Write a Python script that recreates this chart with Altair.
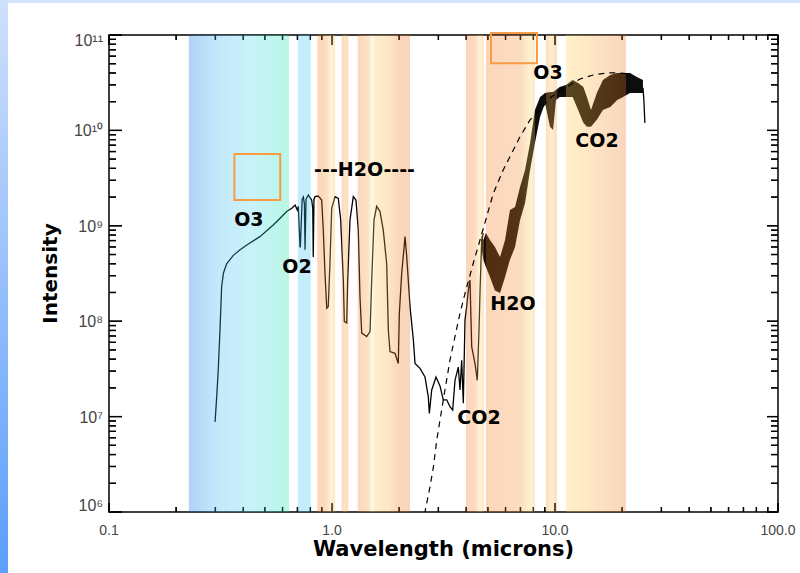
import altair as alt
import pandas as pd

# ---------------- data ----------------
# measured spectrum (wavelength in microns, intensity)
spec_wl = [0.299, 0.304, 0.309, 0.315, 0.320, 0.326, 0.337, 0.361, 0.387, 0.415, 0.475, 0.545, 0.585,
           0.626, 0.660, 0.683, 0.699, 0.706, 0.719, 0.721, 0.735, 0.744, 0.752, 0.757, 0.765, 0.783,
           0.811, 0.820, 0.824, 0.830, 0.839, 0.868, 0.899, 0.914, 0.930, 0.947, 0.962, 0.979, 0.997,
           1.032, 1.067, 1.094, 1.124, 1.136, 1.164, 1.176, 1.204, 1.246, 1.281, 1.312, 1.335, 1.359,
           1.431, 1.481, 1.507, 1.543, 1.586, 1.642, 1.698, 1.759, 1.789, 1.820, 1.916, 1.983, 2.004,
           2.054, 2.126, 2.163, 2.238, 2.316, 2.357, 2.481, 2.612, 2.704, 2.732, 2.800, 2.927, 3.050,
           3.156, 3.268, 3.381, 3.477, 3.561, 3.685, 3.750, 3.816, 3.880, 3.948, 4.018, 4.085, 4.157,
           4.231, 4.378, 4.483, 4.562, 4.610, 4.691, 4.770]
spec_int = [8.8e6, 1.6e7, 3.1e7, 8.8e7, 2.3e8, 3.2e8, 4.0e8, 4.9e8, 5.6e8, 6.3e8, 7.7e8, 1.02e9, 1.2e9,
            1.41e9, 1.53e9, 1.65e9, 1.46e9, 1.6e9, 6.0e8, 6.0e8, 1.9e9, 2.0e9, 1.7e9, 5.6e8, 1.9e9, 2.1e9,
            1.86e9, 1.5e9, 4.7e8, 1.9e9, 2.02e9, 2.05e9, 1.86e9, 9.0e8, 3.2e8, 1.37e8, 1.42e8, 4.0e8, 1.53e9,
            2.02e9, 1.94e9, 1.15e9, 2.7e8, 9.9e7, 9.6e7, 2.7e8, 1.15e9, 2.02e9, 1.86e9, 9.0e8, 1.8e8, 7.5e7,
            6.9e7, 7.8e7, 2.7e8, 1.15e9, 1.6e9, 1.41e9, 9.0e8, 4.0e8, 8.1e7, 4.8e7, 4.6e7, 3.6e7, 1.2e8,
            3.2e8, 7.7e8, 4.75e8, 1.42e8, 6.4e7, 3.6e7, 3.2e7, 2.6e7, 1.6e7, 1.08e7, 1.9e7, 2.6e7, 2.1e7,
            1.5e7, 1.5e7, 1.27e7, 1.17e7, 2.4e7, 3.3e7, 1.9e7, 3.9e7, 1.38e7, 1.03e8, 1.42e8, 2.1e8, 2.7e8,
            5.4e7, 3.6e7, 2.4e7, 8.1e7, 2.0e8, 7.1e8, 8.4e8]

# noisy thermal-infrared part: lower / upper envelope
noise_wl = [4.69, 4.77, 4.90, 5.11, 5.38, 5.67, 5.97, 6.28, 6.62, 6.97, 7.34, 7.73, 8.13, 8.57, 9.02,
            9.50, 9.80, 10.1, 10.5, 11.2, 12.0, 12.7, 13.4, 13.9, 14.5, 15.4, 16.4, 17.7, 19.0, 20.2,
            21.7, 23.3, 24.8]
noise_lo = [5.6e8, 4.4e8, 3.7e8, 2.9e8, 2.1e8, 1.98e8, 2.9e8, 4.4e8, 6.0e8, 1.15e9, 1.73e9, 3.84e9,
            7.4e9, 1.38e10, 1.94e10, 1.09e10, 1.01e10, 2.08e10, 2.24e10, 2.24e10, 2.24e10, 1.64e10,
            1.2e10, 1.09e10, 1.09e10, 1.29e10, 1.64e10, 1.76e10, 2.08e10, 2.24e10, 2.47e10, 2.47e10, 2.47e10]
noise_hi = [8.0e8, 7.1e8, 8.4e8, 7.1e8, 6.0e8, 4.7e8, 7.1e8, 1.46e9, 1.57e9, 2.55e9, 3.84e9, 7.4e9,
            1.64e10, 2.24e10, 2.47e10, 2.53e10, 2.53e10, 2.65e10, 2.85e10, 2.99e10, 3.38e10, 3.14e10,
            2.85e10, 2.24e10, 1.64e10, 2.47e10, 3.38e10, 3.81e10, 4.0e10, 4.0e10, 4.0e10, 3.63e10, 3.38e10]

# end of the spectrum
tail_wl = [24.8, 25.0, 25.3]
tail_int = [2.8e10, 2.2e10, 1.2e10]

# blackbody (dashed)
bb_wl = [2.60, 2.75, 2.85, 2.95, 3.05, 3.21, 3.38, 3.56, 3.75, 3.95, 4.30, 4.61, 4.94, 5.29, 5.86,
         6.28, 6.97, 7.73, 8.57, 9.50, 10.9, 12.95, 14.85, 17.05, 19.6, 22.0]
bb_int = [9.5e5, 1.83e6, 2.98e6, 5.7e6, 9.2e6, 1.9e7, 3.9e7, 6.9e7, 1.21e8, 1.96e8, 4.05e8, 7.1e8,
          1.25e9, 2.19e9, 3.85e9, 5.3e9, 8.6e9, 1.29e10, 1.64e10, 2.19e10, 2.72e10, 3.46e10, 3.81e10,
          4.0e10, 4.0e10, 3.9e10]

# shaded absorption bands (microns)
band_start = [0.228, 0.702, 0.859, 1.105, 1.304, 3.99, 4.90, 9.11, 11.2]
band_end = [0.642, 0.803, 1.032, 1.183, 2.238, 4.80, 8.13, 10.2, 20.8]

# orange boxes
box_x1 = [0.365, 5.16]
box_x2 = [0.586, 8.30]
box_y1 = [1.86e9, 5.05e10]
box_y2 = [5.66e9, 1.05e11]

# annotations
label_text = ["O3", "---H2O----", "O2", "H2O", "CO2", "O3", "CO2"]
label_wl = [0.424, 1.399, 0.697, 6.48, 4.56, 9.30, 15.43]
label_int = [1.15e9, 3.84e9, 3.70e8, 1.51e8, 9.67e6, 4.0e10, 7.74e9]

# axes
x_title = "Wavelength (microns)"
y_title = "Intensity"
x_major = [0.1, 1.0, 10.0, 100.0]
x_major_labels = ["0.1", "1.0", "10.0", "100.0"]
x_minor = [0.2, 0.3, 0.4, 0.5, 0.6, 0.7, 0.8, 0.9, 2, 3, 4, 5, 6, 7, 8, 9,
           20, 30, 40, 50, 60, 70, 80, 90]
y_major = [1e6, 1e7, 1e8, 1e9, 1e10, 1e11]
y_major_labels = ["10⁶", "10⁷", "10⁸", "10⁹", "10¹⁰", "10¹¹"]
y_minor = [m * 10 ** e for e in range(6, 11) for m in range(2, 10)]

# ---------------- styles ----------------
W, H = 669, 477
ALPHA = 0.3
band_styles = [
    [(0, "#b2d2f6"), (0.3, "#c4e9fa"), (0.6, "#c9f2fa"), (1, "#b9f6e4")],
    [(0, "#c3edf9"), (1, "#c3edf9")],
    [(0, "#fbd5ba"), (0.45, "#fcdcbf"), (0.8, "#fff2d6"), (1, "#fde3c4")],
    [(0, "#fbd7bb"), (0.5, "#fde6c8"), (1, "#fbd7bb")],
    [(0, "#fcd7bb"), (0.2, "#fde2c4"), (0.27, "#fff8e6"), (0.35, "#fdeccb"), (0.6, "#fde6c4"),
     (0.75, "#fbd8bc"), (1, "#fad4b8")],
    [(0, "#fbd5ba"), (0.5, "#fcdcc0"), (0.75, "#fff3d6"), (1, "#fde7c6")],
    [(0, "#fbd6bb"), (0.7, "#fcdcc0"), (0.9, "#fff0cf"), (1, "#fde9c8")],
    [(0, "#fcdcc0"), (0.5, "#fff0cf"), (1, "#fcdcc0")],
    [(0, "#fff1cb"), (0.3, "#fee9c5"), (1, "#f9d5bc")],
]


def src(hexc, a=ALPHA):
    vals = [int(hexc[i:i + 2], 16) for i in (1, 3, 5)]
    out = [max(0, min(255, round((c - 255 * (1 - a)) / a))) for c in vals]
    return "#%02x%02x%02x" % tuple(out)


xs = alt.Scale(type="log", domain=[0.1, 100], nice=False)
ys = alt.Scale(type="log", domain=[1e6, 1e11], nice=False)

# ---------------- layers ----------------
one = pd.DataFrame({"k": [0]})
top_strip = alt.Chart(one).mark_rect(color="#d3e2fb", clip=False).encode(
    x=alt.value(-109), x2=alt.value(W + 22), y=alt.value(-35), y2=alt.value(-32))
left_strip = alt.Chart(one).mark_rect(
    fill={"gradient": "linear", "x1": 0, "x2": 0, "y1": 0, "y2": 1,
          "stops": [{"offset": 0, "color": "#cfe0fc"}, {"offset": 1, "color": "#5b9efb"}]},
    clip=False).encode(x=alt.value(-109), x2=alt.value(-101), y=alt.value(-35), y2=alt.value(H + 61))

spec_df = pd.DataFrame({"wl": spec_wl + tail_wl, "inten": spec_int + tail_int,
                        "seg": ["a"] * len(spec_wl) + ["b"] * len(tail_wl)})
spectrum = alt.Chart(spec_df).mark_line(color="black", strokeWidth=1.3, clip=True).encode(
    x=alt.X("wl:Q", scale=xs, axis=None),
    y=alt.Y("inten:Q", scale=ys, axis=None),
    detail="seg:N")

noise_df = pd.DataFrame({"wl": noise_wl, "lo": noise_lo, "hi": noise_hi})
noise = alt.Chart(noise_df).mark_area(color="black", opacity=0.95, clip=True).encode(
    x=alt.X("wl:Q", scale=xs, axis=None),
    y=alt.Y("lo:Q", scale=ys, axis=None),
    y2="hi:Q")


# inward tick marks on all four edges (positions from the scales)
def xticks(vals, edge_y, length, name):
    df = pd.DataFrame({name: vals})
    top = min(edge_y, edge_y + length)
    return [
        alt.Chart(df).mark_rule(color="black", strokeWidth=1.3).encode(
            x=alt.X(f"{name}:Q", scale=xs, axis=None),
            y=alt.value(edge_y), y2=alt.value(edge_y + length)),
        alt.Chart(df).mark_tick(color="black", orient="vertical", size=abs(length),
                                thickness=1.3, opacity=1).encode(
            x=alt.X(f"{name}:Q", scale=xs, axis=None),
            y=alt.value(top + abs(length) / 2)),
    ]


def yticks(vals, edge_x, length, name):
    df = pd.DataFrame({name: vals})
    left = min(edge_x, edge_x + length)
    return [
        alt.Chart(df).mark_rule(color="black", strokeWidth=1.3).encode(
            y=alt.Y(f"{name}:Q", scale=ys, axis=None),
            x=alt.value(edge_x), x2=alt.value(edge_x + length)),
        alt.Chart(df).mark_tick(color="black", orient="horizontal", size=abs(length),
                                thickness=1.3, opacity=1).encode(
            y=alt.Y(f"{name}:Q", scale=ys, axis=None),
            x=alt.value(left + abs(length) / 2)),
    ]


tick_layers = (
    xticks(x_minor, H, -5, "xb_minor") + xticks(x_major, H, -9, "xb_major")
    + xticks(x_minor, 0, 5, "xt_minor") + xticks(x_major, 0, 10, "xt_major")
    + yticks(y_minor, 0, 7, "yl_minor") + yticks(y_major, 0, 13, "yl_major")
    + yticks(y_minor, W, -7, "yr_minor") + yticks(y_major, W, -11, "yr_major")
)

band_layers = []
for s, e, stops in zip(band_start, band_end, band_styles):
    df = pd.DataFrame({"s": [s], "e": [e]})
    grad = {"gradient": "linear", "x1": 0, "x2": 1, "y1": 0, "y2": 0,
            "stops": [{"offset": o, "color": src(c)} for o, c in stops]}
    band_layers.append(
        alt.Chart(df).mark_rect(fill=grad, opacity=ALPHA, strokeWidth=0).encode(
            x=alt.X("s:Q", scale=xs, axis=None), x2="e:Q",
            y=alt.value(0), y2=alt.value(H)))

bb_df = pd.DataFrame({"wl": bb_wl, "inten": bb_int})
blackbody = alt.Chart(bb_df).mark_line(color="black", strokeWidth=1.2, strokeDash=[6, 5], clip=True).encode(
    x=alt.X("wl:Q", scale=xs, axis=None),
    y=alt.Y("inten:Q", scale=ys, axis=None))

box_df = pd.DataFrame({"x1": box_x1, "x2": box_x2, "y1": box_y1, "y2": box_y2})
boxes = alt.Chart(box_df).mark_rect(fillOpacity=0, stroke="#f89b45", strokeWidth=2, clip=False).encode(
    x=alt.X("x1:Q", scale=xs, axis=None), x2="x2:Q",
    y=alt.Y("y1:Q", scale=ys, axis=None), y2="y2:Q")

lab_df = pd.DataFrame({"t": label_text, "wl": label_wl, "inten": label_int})
labels = alt.Chart(lab_df).mark_text(font="DejaVu Sans", fontSize=19, fontWeight="bold", color="black",
                                     align="center", baseline="middle").encode(
    x=alt.X("wl:Q", scale=xs, axis=None),
    y=alt.Y("inten:Q", scale=ys, axis=None),
    text="t:N")

# tick labels and axis titles
xl_df = pd.DataFrame({"xlv": x_major, "xlt": x_major_labels})
x_labels = alt.Chart(xl_df).mark_text(font="Liberation Sans", fontSize=14, color="#444444",
                                      align="center", baseline="top").encode(
    x=alt.X("xlv:Q", scale=xs, axis=None), y=alt.value(H + 12), text="xlt:N")

y_label_layers = []
for idx, dy in (([1, 2, 3, 4], 1), ([5], 6), ([0], -6)):
    ydf = pd.DataFrame({"ylv": [y_major[i] for i in idx], "ylt": [y_major_labels[i] for i in idx]})
    y_label_layers.append(
        alt.Chart(ydf).mark_text(font="Liberation Sans", fontSize=16, color="#444444",
                                 align="right", baseline="middle", dy=dy).encode(
            y=alt.Y("ylv:Q", scale=ys, axis=None), x=alt.value(-6), text="ylt:N"))

xt_df = pd.DataFrame({"xtt": [x_title]})
x_title_mark = alt.Chart(xt_df).mark_text(font="DejaVu Sans", fontSize=21, fontWeight="bold",
                                          color="black", align="center", baseline="alphabetic").encode(
    x=alt.value(W / 2), y=alt.value(H + 44), text="xtt:N")
yt_df = pd.DataFrame({"ytt": [y_title]})
y_title_mark = alt.Chart(yt_df).mark_text(font="DejaVu Sans", fontSize=20, fontWeight="bold",
                                          color="black", align="center", baseline="alphabetic",
                                          angle=270).encode(
    x=alt.value(-52), y=alt.value(H / 2), text="ytt:N")

chart = alt.layer(top_strip, left_strip, spectrum, noise, *tick_layers, *band_layers,
                  blackbody, boxes, labels, x_labels, *y_label_layers,
                  x_title_mark, y_title_mark).properties(
    width=W, height=H,
    padding={"left": 109, "top": 35, "right": 22, "bottom": 61},
    autosize=alt.AutoSizeParams(type="none"),
    background="white",
).configure_view(stroke="black", strokeWidth=1.5)

chart.save("out.html", embed_options={"renderer": "svg", "actions": False})
